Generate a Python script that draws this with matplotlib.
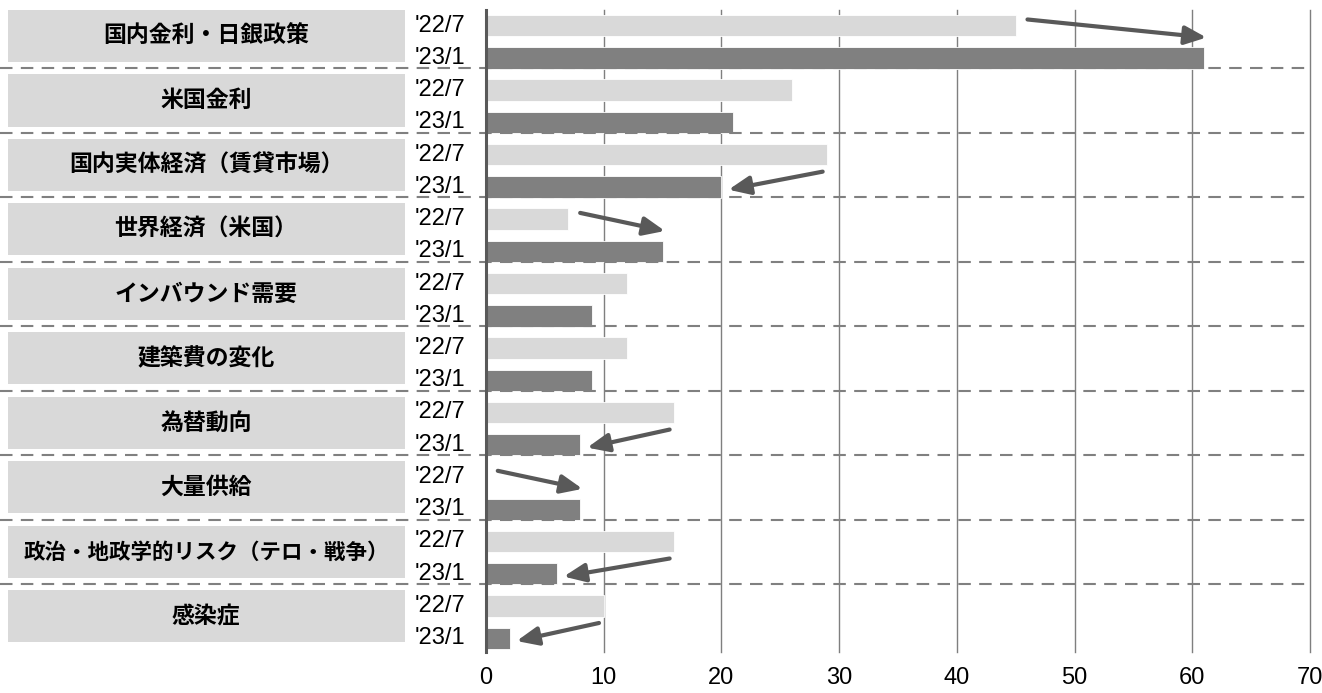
import matplotlib
matplotlib.use("Agg")
import matplotlib.pyplot as plt
from matplotlib.patches import Rectangle
from matplotlib.transforms import blended_transform_factory

# Survey items (Japanese) and share of respondents (%) for each survey round
categories = [
    "国内金利・日銀政策",
    "米国金利",
    "国内実体経済（賃貸市場）",
    "世界経済（米国）",
    "インバウンド需要",
    "建築費の変化",
    "為替動向",
    "大量供給",
    "政治・地政学的リスク（テロ・戦争）",
    "感染症",
]
round_labels = ["'22/7", "'23/1"]
values_2207 = [45, 26, 29, 7, 12, 12, 16, 0, 16, 10]
values_2301 = [61, 21, 20, 15, 9, 9, 8, 8, 6, 2]
x_ticks = [0, 10, 20, 30, 40, 50, 60, 70]

# Items whose change between rounds is highlighted with an arrow
arrow_items = ["国内金利・日銀政策", "国内実体経済（賃貸市場）", "世界経済（米国）",
               "為替動向", "大量供給", "政治・地政学的リスク（テロ・戦争）", "感染症"]

LIGHT = "#d9d9d9"
DARK = "#808080"
ARROW = "#595959"
LATIN = ["Liberation Sans Narrow", "Liberation Sans", "DejaVu Sans"]
CJK = ["Noto Sans CJK JP", "DejaVu Sans"]

fig = plt.figure(figsize=(13.22, 6.93), dpi=100)
ax = fig.add_axes([486 / 1322, 1 - 652 / 693, 824 / 1322, 642 / 693])

n = len(categories)
pos_a = [i + 0.335 for i in range(n)]
pos_b = [i + 0.837 for i in range(n)]
bar_h = 0.33

ax.barh(pos_a, values_2207, height=bar_h, color=LIGHT, edgecolor="white",
        linewidth=0.6, zorder=3)
ax.barh(pos_b, values_2301, height=bar_h, color=DARK, edgecolor="white",
        linewidth=0.6, zorder=3)

ax.set_xlim(0, 70)
ax.set_ylim(10.05, 0.093)

# vertical grid
for t in x_ticks[1:]:
    ax.axvline(t, color="#7f7f7f", lw=1.0, zorder=1, clip_on=False)

for s in ["top", "right", "bottom"]:
    ax.spines[s].set_visible(False)
ax.spines["left"].set_color("#595959")
ax.spines["left"].set_linewidth(2.2)
ax.spines["left"].set_zorder(5)

ax.set_xticks(x_ticks)
ax.set_xticklabels([str(t) for t in x_ticks], family=LATIN, fontsize=17)
ax.tick_params(axis="x", length=0, pad=11)
ax.set_yticks([])

bt = blended_transform_factory(ax.transAxes, ax.transData)

# dashed separators between items (span the whole width, label column included)
for i in range(1, n):
    ax.plot([-486 / 824, 1.0], [i, i], transform=bt, color="#808080", lw=1.5,
            dashes=(6, 4), clip_on=False, zorder=4)

# label boxes and round labels; long labels are shrunk to fit the box
for i, name in enumerate(categories):
    ax.add_patch(Rectangle((-478 / 824, i + 0.09), 397 / 824, 0.81, transform=bt,
                           facecolor=LIGHT, edgecolor="none", clip_on=False, zorder=2))
    fs = min(16.5, 365 / (len(name) * 1.389))
    ax.text(-280 / 824, i + 0.5, name, transform=bt, ha="center", va="center",
            family=CJK, fontweight="bold", fontsize=fs)
    ax.text(-71 / 824, pos_a[i], round_labels[0], transform=bt, ha="left",
            va="center", family=LATIN, fontsize=17)
    ax.text(-71 / 824, pos_b[i], round_labels[1], transform=bt, ha="left",
            va="center", family=LATIN, fontsize=17)

# change arrows
for name in arrow_items:
    i = categories.index(name)
    a, b = values_2207[i], values_2301[i]
    if b > a:
        start = (a + 1.0, i + 0.24)
        end = (b + 0.2, i + 0.52)
    else:
        start = (a - 0.4, i + 0.6)
        end = (b + 0.6, i + 0.88)
    ax.annotate("", xy=end, xytext=start,
                arrowprops=dict(arrowstyle="-|>,head_length=0.65,head_width=0.28",
                                mutation_scale=20, lw=3, color=ARROW,
                                shrinkA=0, shrinkB=0),
                zorder=6, annotation_clip=False)

fig.savefig("out.png", dpi=100)
